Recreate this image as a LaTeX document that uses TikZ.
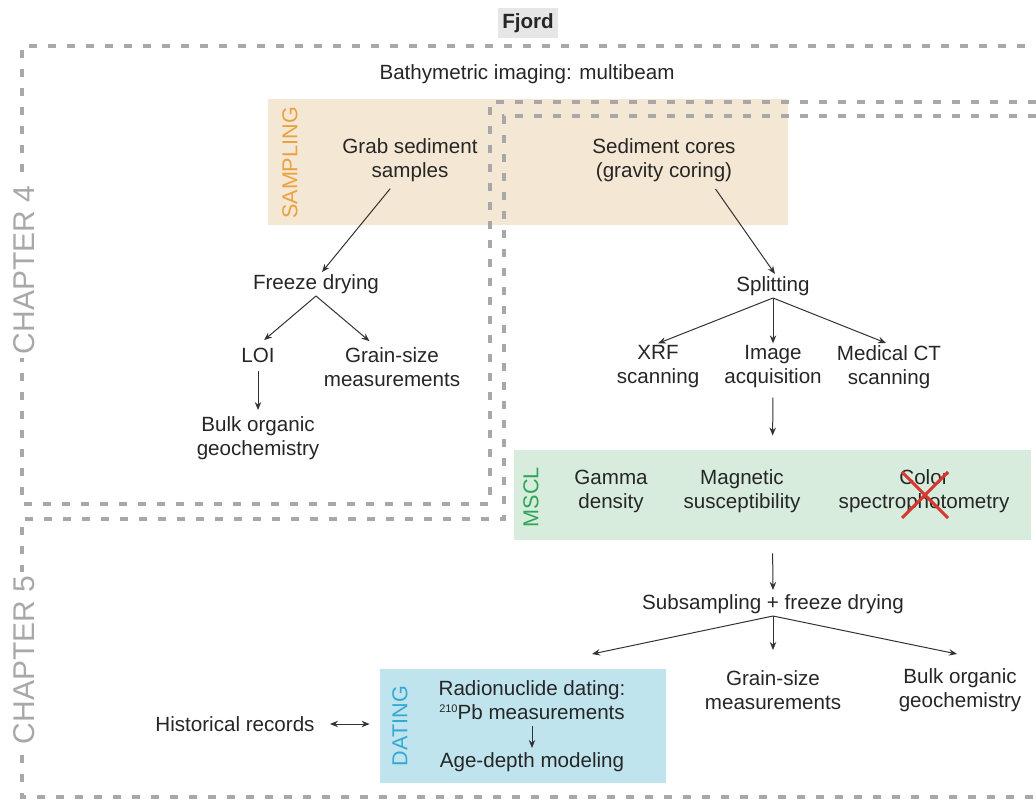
\documentclass[tikz,border=0pt]{standalone}
\usepackage{fontspec}
\setmainfont{Liberation Sans}
\usetikzlibrary{arrows.meta}
\definecolor{samplingfill}{HTML}{F4E7D3}
\definecolor{samplingtext}{HTML}{E9A23F}
\definecolor{msclfill}{HTML}{D7ECDD}
\definecolor{mscltext}{HTML}{2FA457}
\definecolor{datingfill}{HTML}{BFE4EE}
\definecolor{datingtext}{HTML}{35A9D2}
\definecolor{chaptergray}{HTML}{A8A8A8}
\definecolor{fjordgray}{HTML}{E6E6E6}
\definecolor{crossred}{HTML}{D8362F}
\begin{document}
\begin{tikzpicture}[x=0.5pt,y=-0.5pt,
  >={Stealth[length=4pt,width=3.2pt]},
  txt/.style={font=\fontsize{10.3}{12}\selectfont, align=center, inner sep=1pt, text=black!85},
  area/.style={inner sep=0pt},
  tag/.style={font=\fontsize{10.8}{12}\selectfont, rotate=90, inner sep=0pt},
  chapter/.style={font=\fontsize{15}{18}\selectfont, text=chaptergray, rotate=90, fill=white, inner sep=2pt},
  outline/.style={chaptergray, line width=1.6pt, dash pattern=on 4pt off 5.5pt},
  arr/.style={->, black!80, line width=0.5pt}]
\useasboundingbox (0,0) rectangle (1036,801);
% coloured areas
\node[area, fill=samplingfill, minimum width=260pt, minimum height=63pt] (samplingbox) at (528,162) {};
\node[area, fill=msclfill, minimum width=258.5pt, minimum height=45pt] (msclbox) at (772.5,495) {};
\node[area, fill=datingfill, minimum width=143pt, minimum height=57pt] (datingbox) at (523,726) {};
% chapter outlines
\draw[outline] (1036,102) -- (490,102) -- (490,504) -- (22,504) -- (22,46) -- (1036,46);
\draw[outline] (1036,116) -- (504,116) -- (504,519) -- (22,519) -- (22,797) -- (1036,797);
\node[chapter] (chapfour) at (24,270) {CHAPTER 4};
\node[chapter] (chapfive) at (24,660) {CHAPTER 5};
\node[txt, font=\bfseries\fontsize{10.3}{12}\selectfont, fill=fjordgray, minimum width=30pt, minimum height=15pt] (fjord) at (528,23) {Fjord};
\node[txt] (bathy) at (527,74) {Bathymetric imaging: multibeam};
% chapter 4
\node[tag, text=samplingtext] (samplingtag) at (290,163) {SAMPLING};
\node[txt] (grab) at (410,160) {Grab sediment\\samples};
\node[txt] (cores) at (664,160) {Sediment cores\\(gravity coring)};
\node[txt] (freeze) at (316,284) {Freeze drying};
\node[txt] (loi) at (258,355) {LOI};
\node[txt] (grainA) at (392,367) {Grain-size\\measurements};
\node[txt] (bulkA) at (258,438) {Bulk organic\\geochemistry};
\node[txt] (split) at (773,286) {Splitting};
\node[txt] (xrf) at (658,367) {XRF\\scanning};
\node[txt] (image) at (773,367) {Image\\acquisition};
\node[txt] (ct) at (889,367) {Medical CT\\scanning};
\node[tag, text=mscltext] (mscltag) at (531,497) {MSCL};
\node[txt] (gamma) at (611,491) {Gamma\\density};
\node[txt] (magsus) at (742,491) {Magnetic\\susceptibility};
\node[txt] (color) at (924,491) {Color\\spectrophotometry};
\draw[crossred, line width=1.5pt] (902,472) -- (948,518) (902,518) -- (948,472);
% chapter 5
\node[txt] (subsamp) at (773,604) {Subsampling + freeze drying};
\node[txt] (grainB) at (773,690) {Grain-size\\measurements};
\node[txt] (bulkB) at (960,690) {Bulk organic\\geochemistry};
\node[tag, text=datingtext] (datingtag) at (400,726) {DATING};
\node[txt] (radio) at (532,700) {Radionuclide dating:\\\raisebox{3.6pt}{\fontsize{5.5}{6}\selectfont 210}Pb measurements};
\node[txt] (agedepth) at (532,762) {Age-depth modeling};
\node[txt] (hist) at (235,724) {Historical records};
\coordinate (datingtip) at (592,654);
% arrows
\draw[arr, shorten <=3pt] ([xshift=-8pt]grab.south) -- ([xshift=3pt]freeze.north);
\draw[arr, shorten <=3pt] ([xshift=24pt]cores.south) -- ([xshift=1pt]split.north);
\draw[arr, shorten >=4pt] (freeze.south) -- (loi.north);
\draw[arr, shorten >=3pt] (freeze.south) -- ([xshift=-9pt]grainA.north);
\draw[arr, shorten <=3pt, shorten >=2pt] (loi.south) -- (bulkA.north);
\draw[arr] (split.south) -- (xrf.north);
\draw[arr] (split.south) -- (image.north);
\draw[arr] (split.south) -- ([xshift=-1.5pt]ct.north);
\draw[arr, shorten <=3.5pt, shorten >=7pt] (image.south) -- (msclbox.north);
\draw[arr, shorten <=6.5pt, shorten >=1pt] (msclbox.south) -- (subsamp.north);
\draw[arr] (subsamp.south) -- (datingtip);
\draw[arr, shorten >=9pt] (subsamp.south) -- (grainB.north);
\draw[arr] (subsamp.south) -- ([xshift=-1.5pt,yshift=6pt]bulkB.north);
\draw[arr, shorten <=2pt, shorten >=1pt] (radio.south) -- (agedepth.north);
\draw[<->, black!80, line width=0.5pt, shorten <=6.5pt, shorten >=5pt] (hist.east) -- (hist.east -| datingbox.west);
\end{tikzpicture}
\end{document}
